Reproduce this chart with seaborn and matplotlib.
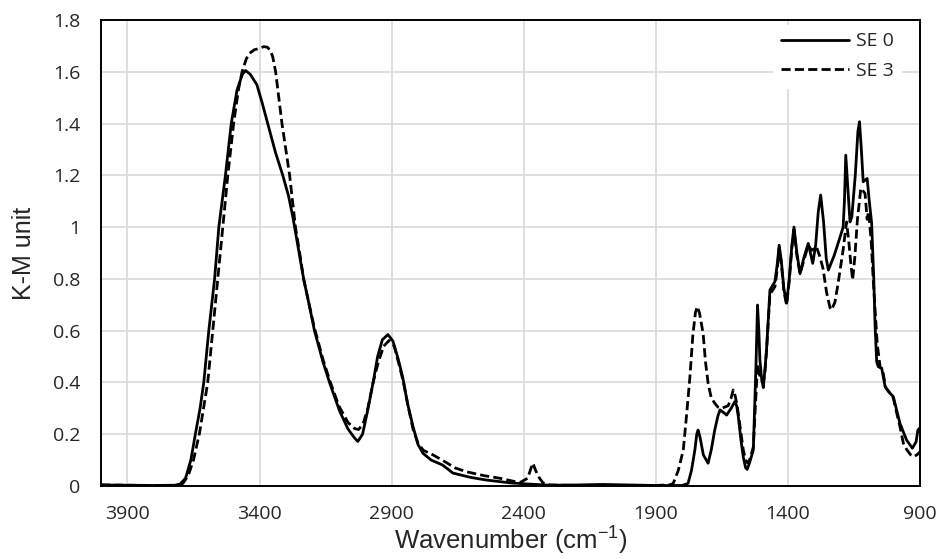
import seaborn as sns
import matplotlib.pyplot as plt
import pandas as pd

# Datos (numero de onda en cm-1, unidades K-M)
wn_se0 = [4000, 3900, 3800, 3720, 3700, 3680, 3660, 3642, 3625, 3611, 3592, 3570, 3554, 3529, 3507,
          3485, 3465, 3453, 3435, 3410, 3390, 3369, 3340, 3312, 3290, 3274, 3250, 3233, 3212, 3192,
          3160, 3135, 3097, 3065, 3040, 3028, 3010, 2991, 2970, 2953, 2935, 2914, 2895, 2875, 2858,
          2840, 2819, 2800, 2781, 2750, 2707, 2668, 2600, 2541, 2450, 2390, 2300, 2200, 2100, 2000,
          1900, 1800, 1778, 1765, 1752, 1745, 1740, 1733, 1720, 1702, 1690, 1677, 1665, 1657, 1645,
          1632, 1615, 1601, 1594, 1588, 1578, 1569, 1560, 1554, 1545, 1531, 1521, 1515, 1510, 1506,
          1499, 1493, 1487, 1481, 1468, 1449, 1440, 1433, 1425, 1415, 1405, 1395, 1385, 1377, 1366,
          1354, 1340, 1323, 1315, 1306, 1295, 1285, 1276, 1265, 1255, 1247, 1225, 1203, 1191, 1186,
          1181, 1173, 1165, 1158, 1145, 1135, 1129, 1122, 1115, 1100, 1092, 1083, 1075, 1070, 1064,
          1058, 1045, 1032, 1015, 1001, 990, 976, 951, 929, 915, 908, 900]
km_se0 = [0.004, 0.003, 0.002, 0.003, 0.008, 0.03, 0.10, 0.205, 0.30, 0.40, 0.60, 0.80, 1.00, 1.20, 1.40,
          1.53, 1.59, 1.605, 1.59, 1.55, 1.48, 1.40, 1.29, 1.20, 1.12, 1.04, 0.90, 0.80, 0.70, 0.60,
          0.48, 0.40, 0.29, 0.22, 0.185, 0.172, 0.20, 0.29, 0.40, 0.50, 0.565, 0.585, 0.56, 0.49, 0.42,
          0.32, 0.23, 0.16, 0.126, 0.10, 0.081, 0.05, 0.033, 0.023, 0.012, 0.008, 0.003, 0.004, 0.006, 0.004,
          0.002, 0.002, 0.01, 0.06, 0.14, 0.20, 0.216, 0.19, 0.12, 0.088, 0.14, 0.216, 0.27, 0.294, 0.285,
          0.274, 0.30, 0.326, 0.31, 0.27, 0.18, 0.113, 0.07, 0.064, 0.09, 0.139, 0.46, 0.699, 0.60, 0.487,
          0.41, 0.38, 0.45, 0.525, 0.757, 0.79, 0.86, 0.93, 0.87, 0.76, 0.706, 0.80, 0.93, 1.00, 0.90,
          0.82, 0.88, 0.937, 0.90, 0.86, 0.93, 1.06, 1.124, 1.02, 0.88, 0.834, 0.89, 0.96, 1.00, 1.10,
          1.278, 1.15, 1.02, 1.04, 1.20, 1.37, 1.407, 1.30, 1.175, 1.188, 1.10, 1.015, 0.80, 0.62, 0.48,
          0.461, 0.455, 0.384, 0.36, 0.345, 0.30, 0.242, 0.178, 0.146, 0.17, 0.216, 0.225]

wn_se3 = [4000, 3900, 3800, 3710, 3690, 3670, 3650, 3627, 3612, 3596, 3577, 3558, 3539, 3520, 3498,
          3480, 3466, 3450, 3438, 3420, 3400, 3385, 3370, 3358, 3350, 3339, 3315, 3286, 3264, 3248,
          3233, 3212, 3192, 3160, 3135, 3100, 3065, 3040, 3025, 3008, 2990, 2970, 2950, 2930, 2910,
          2890, 2872, 2855, 2838, 2819, 2800, 2780, 2743, 2700, 2660, 2617, 2550, 2491, 2415, 2385,
          2372, 2365, 2355, 2340, 2327, 2300, 2200, 2000, 1900, 1845, 1834, 1815, 1796, 1783, 1771,
          1760, 1750, 1743, 1735, 1721, 1712, 1702, 1690, 1677, 1665, 1651, 1638, 1626, 1615, 1607,
          1600, 1592, 1580, 1569, 1560, 1554, 1545, 1531, 1521, 1515, 1510, 1502, 1493, 1487, 1481,
          1468, 1449, 1440, 1433, 1425, 1415, 1405, 1395, 1385, 1377, 1366, 1354, 1340, 1323, 1310,
          1292, 1279, 1267, 1254, 1241, 1235, 1222, 1210, 1191, 1178, 1170, 1162, 1155, 1147, 1137,
          1124, 1116, 1108, 1100, 1095, 1085, 1077, 1062, 1051, 1040, 1030, 1015, 1001, 990, 976,
          963, 950, 935, 925, 912, 900]
km_se3 = [0.004, 0.003, 0.002, 0.002, 0.01, 0.04, 0.10, 0.205, 0.30, 0.40, 0.60, 0.80, 1.00, 1.20, 1.40,
          1.53, 1.60, 1.65, 1.671, 1.685, 1.69, 1.697, 1.695, 1.68, 1.658, 1.60, 1.40, 1.20, 1.00, 0.90,
          0.80, 0.70, 0.61, 0.49, 0.41, 0.31, 0.245, 0.222, 0.218, 0.24, 0.30, 0.40, 0.48, 0.54, 0.562,
          0.54, 0.47, 0.40, 0.31, 0.22, 0.165, 0.138, 0.12, 0.095, 0.07, 0.055, 0.04, 0.03, 0.013, 0.03,
          0.07, 0.088, 0.06, 0.03, 0.012, 0.004, 0.002, 0.002, 0.002, 0.005, 0.01, 0.06, 0.139, 0.28, 0.42,
          0.58, 0.67, 0.693, 0.67, 0.59, 0.48, 0.397, 0.34, 0.32, 0.305, 0.30, 0.305, 0.31, 0.34, 0.371,
          0.35, 0.31, 0.22, 0.14, 0.10, 0.09, 0.10, 0.15, 0.35, 0.47, 0.44, 0.41, 0.40, 0.44, 0.52,
          0.74, 0.77, 0.84, 0.92, 0.86, 0.75, 0.70, 0.79, 0.92, 0.99, 0.89, 0.82, 0.87, 0.93, 0.91,
          0.924, 0.886, 0.84, 0.75, 0.69, 0.68, 0.71, 0.783, 0.912, 1.02, 0.95, 0.86, 0.796, 0.88, 1.027,
          1.15, 1.14, 1.13, 1.03, 1.06, 0.95, 0.796, 0.55, 0.46, 0.44, 0.38, 0.36, 0.34, 0.29, 0.23,
          0.165, 0.14, 0.12, 0.113, 0.12, 0.132]

df = pd.concat([
    pd.DataFrame({'wn': wn_se0, 'km': km_se0, 'serie': 'SE 0'}),
    pd.DataFrame({'wn': wn_se3, 'km': km_se3, 'serie': 'SE 3'}),
], ignore_index=True)

sns.set_style('white')
plt.rcParams['mathtext.fontset'] = 'custom'
plt.rcParams['mathtext.rm'] = 'Liberation Sans'
plt.rcParams['mathtext.default'] = 'rm'

fig = plt.figure(figsize=(9.4, 5.59), dpi=100)
ax = fig.add_axes([101 / 940, 73 / 559, 819 / 940, 466 / 559])

sns.lineplot(data=df, x='wn', y='km', style='serie', color='black', linewidth=2.0,
             dashes={'SE 0': '', 'SE 3': (3.3, 1.5)}, sort=False, estimator=None, ax=ax)

ax.set_xlim(4000, 900)
ax.set_ylim(0, 1.8)
ax.set_xticks([3900, 3400, 2900, 2400, 1900, 1400, 900])
ax.set_yticks([0, 0.2, 0.4, 0.6, 0.8, 1, 1.2, 1.4, 1.6, 1.8])
ax.set_yticklabels(['0', '0.2', '0.4', '0.6', '0.8', '1', '1.2', '1.4', '1.6', '1.8'])
ax.grid(True, color='#d9d9d9', linewidth=1.2)
ax.set_axisbelow(True)

for s in ax.spines.values():
    s.set_color('black')
    s.set_linewidth(1.4)

ax.tick_params(axis='both', direction='out', length=5, width=1.2, color='black', labelsize=14)
ax.tick_params(axis='x', pad=9)
ax.tick_params(axis='y', pad=10)
for lab in ax.get_xticklabels() + ax.get_yticklabels():
    lab.set_family(['Open Sans', 'DejaVu Sans'])

ax.set_xlabel('Wavenumber (cm$^{-1}$)', fontsize=18.5, family=['Liberation Sans', 'DejaVu Sans'], labelpad=1)
ax.set_ylabel('K-M unit', fontsize=18, family=['Liberation Sans', 'DejaVu Sans'], labelpad=12)

leg = ax.legend(loc='upper right', bbox_to_anchor=(0.977, 0.99), borderaxespad=0, frameon=True,
                handlelength=3.5, handletextpad=0.35, labelspacing=0.6,
                prop={'family': ['Open Sans', 'DejaVu Sans'], 'size': 14})
leg.get_frame().set_edgecolor('white')
leg.get_frame().set_facecolor('white')
leg.get_frame().set_alpha(1)

fig.savefig('out.png', dpi=100)
